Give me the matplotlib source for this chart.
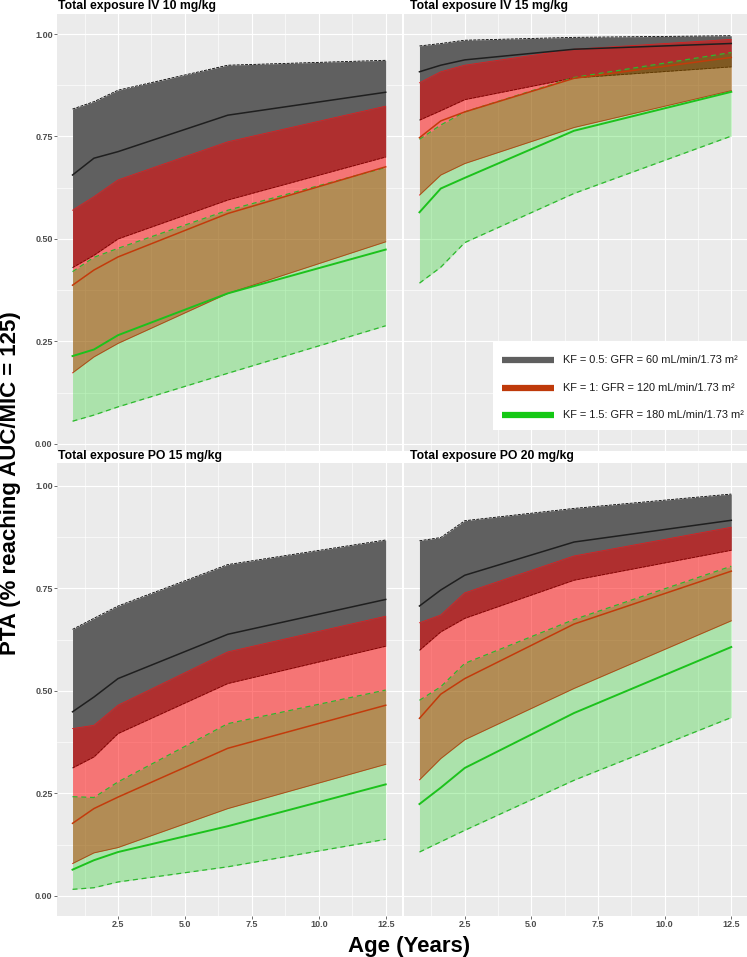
import matplotlib
matplotlib.use("Agg")
import matplotlib.pyplot as plt
from matplotlib.patches import Rectangle
from matplotlib.lines import Line2D

plt.rcParams['font.family'] = ['Liberation Sans', 'DejaVu Sans']

# ages (years)
age = [0.8, 1.6, 2.5, 6.6, 12.5]

# each list: [lower, median, upper]
iv10_kf05 = [[0.43, 0.46, 0.50, 0.595, 0.70],
             [0.656, 0.697, 0.713, 0.802, 0.858],
             [0.817, 0.835, 0.863, 0.924, 0.936]]
iv10_kf1 = [[0.173, 0.212, 0.245, 0.367, 0.493],
            [0.387, 0.424, 0.456, 0.562, 0.676],
            [0.570, 0.603, 0.644, 0.737, 0.824]]
iv10_kf15 = [[0.055, 0.070, 0.090, 0.172, 0.288],
             [0.214, 0.230, 0.265, 0.367, 0.474],
             [0.42, 0.455, 0.477, 0.570, 0.674]]

iv15_kf05 = [[0.790, 0.813, 0.840, 0.893, 0.920],
             [0.908, 0.924, 0.937, 0.963, 0.977],
             [0.971, 0.977, 0.985, 0.992, 0.996]]
iv15_kf1 = [[0.607, 0.656, 0.684, 0.772, 0.862],
            [0.747, 0.788, 0.810, 0.892, 0.943],
            [0.881, 0.908, 0.924, 0.963, 0.987]]
iv15_kf15 = [[0.392, 0.431, 0.491, 0.611, 0.751],
             [0.565, 0.623, 0.649, 0.764, 0.859],
             [0.743, 0.778, 0.810, 0.894, 0.955]]

po15_kf05 = [[0.312, 0.339, 0.396, 0.518, 0.609],
             [0.449, 0.485, 0.530, 0.638, 0.723],
             [0.650, 0.677, 0.707, 0.808, 0.868]]
po15_kf1 = [[0.079, 0.105, 0.118, 0.213, 0.321],
            [0.177, 0.213, 0.241, 0.360, 0.465],
            [0.408, 0.416, 0.465, 0.595, 0.682]]
po15_kf15 = [[0.016, 0.020, 0.034, 0.071, 0.138],
             [0.064, 0.087, 0.107, 0.170, 0.272],
             [0.242, 0.240, 0.278, 0.420, 0.502]]

po20_kf05 = [[0.599, 0.644, 0.677, 0.770, 0.843],
             [0.707, 0.746, 0.782, 0.863, 0.916],
             [0.866, 0.874, 0.915, 0.945, 0.980]]
po20_kf1 = [[0.283, 0.335, 0.381, 0.506, 0.671],
            [0.433, 0.492, 0.530, 0.663, 0.792],
            [0.666, 0.685, 0.739, 0.829, 0.899]]
po20_kf15 = [[0.107, 0.132, 0.160, 0.282, 0.435],
             [0.224, 0.264, 0.312, 0.446, 0.607],
             [0.477, 0.510, 0.567, 0.674, 0.804]]

titles = ['Total exposure IV 10 mg/kg', 'Total exposure IV 15 mg/kg',
          'Total exposure PO 15 mg/kg', 'Total exposure PO 20 mg/kg']
panels = [(iv10_kf05, iv10_kf1, iv10_kf15), (iv15_kf05, iv15_kf1, iv15_kf15),
          (po15_kf05, po15_kf1, po15_kf15), (po20_kf05, po20_kf1, po20_kf15)]
legend_labels = ['KF = 0.5: GFR = 60 mL/min/1.73 m\u00b2',
                 'KF = 1: GFR = 120 mL/min/1.73 m\u00b2',
                 'KF = 1.5: GFR = 180 mL/min/1.73 m\u00b2']
xticks = [2.5, 5.0, 7.5, 10.0, 12.5]
yticks = [0.0, 0.25, 0.5, 0.75, 1.0]

W, H = 747, 957
fig = plt.figure(figsize=(W / 100, H / 100), dpi=100)


def px_axes(x0, y0, x1, y1):
    return fig.add_axes([x0 / W, 1 - y1 / H, (x1 - x0) / W, (y1 - y0) / H])


# pixel boxes of the four panels (left, top, right, bottom)
boxes = [(57, 14, 401.5, 450.7), (404, 14, 747, 450.7),
         (57, 463.3, 401.5, 916), (404, 463.3, 747, 916)]
ylims = [(-0.017, 1.049), (-0.017, 1.049), (-0.049, 1.055), (-0.049, 1.055)]
title_x = [57.5, 410, 57.5, 410]
title_y = [9, 9, 459.5, 459.5]

for i, (box, (kf05, kf1, kf15)) in enumerate(zip(boxes, panels)):
    ax = px_axes(*box)
    ax.set_facecolor('#EBEBEB')
    for s in ax.spines.values():
        s.set_visible(False)
    ax.set_xlim(0.22, 13.09)
    ax.set_ylim(*ylims[i])
    ax.set_xticks(xticks)
    ax.set_xticklabels(['2.5', '5.0', '7.5', '10.0', '12.5'])
    ax.set_xticks([1.25, 3.75, 6.25, 8.75, 11.25], minor=True)
    ax.set_yticks(yticks)
    ax.set_yticklabels(['0.00', '0.25', '0.50', '0.75', '1.00'])
    ax.set_yticks([0.125, 0.375, 0.625, 0.875], minor=True)
    ax.grid(which='major', color='white', lw=0.85)
    ax.grid(which='minor', color='white', lw=0.45)
    ax.set_axisbelow(True)
    ax.tick_params(which='minor', length=0)
    ax.tick_params(which='major', length=2, width=0.5, color='#333333',
                   labelcolor='#4D4D4D', labelsize=6.5, pad=1.2)
    for lab in ax.get_xticklabels() + ax.get_yticklabels():
        lab.set_fontweight('bold')
    if i % 2 == 1:
        ax.tick_params(axis='y', left=False, labelleft=False)
    if i < 2:
        ax.tick_params(axis='x', bottom=False, labelbottom=False)

    # ribbons
    ax.fill_between(age, kf05[0], kf05[2], color='#606060', lw=0, zorder=2)
    ax.plot(age, kf05[0], color='black', lw=0.6, dashes=(3.5, 1.5), zorder=3)
    ax.plot(age, kf05[2], color='black', lw=0.6, dashes=(3.5, 1.5), zorder=3)
    ax.fill_between(age, kf1[0], kf1[2], color='red', alpha=0.5, lw=0, zorder=4)
    ax.plot(age, kf1[0], color='#E41A1C', lw=0.6, zorder=5)
    ax.plot(age, kf1[2], color='#E41A1C', lw=0.6, zorder=5)
    ax.fill_between(age, kf15[0], kf15[2], color='#00CD00', alpha=0.27, lw=0, zorder=6)
    ax.plot(age, kf15[0], color='#2DB82D', lw=0.9, dashes=(4, 3), zorder=7)
    ax.plot(age, kf15[2], color='#2DB82D', lw=0.9, dashes=(4, 3), zorder=7)
    # medians
    ax.plot(age, kf05[1], color='#1F1F1F', lw=1.1, zorder=8)
    ax.plot(age, kf1[1], color='#C33B0B', lw=1.1, zorder=8)
    ax.plot(age, kf15[1], color='#1CC21C', lw=1.4, zorder=8)

# overlay in pixel coordinates for strip titles, axis titles and legend
ov = fig.add_axes([0, 0, 1, 1], facecolor='none')
ov.set_xlim(0, W)
ov.set_ylim(H, 0)
ov.axis('off')

for t, tx, ty in zip(titles, title_x, title_y):
    ov.text(tx, ty, t, fontsize=8.8, fontweight='bold', ha='left', va='baseline')

ov.text(11, 483, 'PTA (% reaching AUC/MIC = 125)', fontsize=16, fontweight='bold',
        rotation=90, ha='center', va='center')
ov.text(409, 952, 'Age (Years)', fontsize=16, fontweight='bold',
        ha='center', va='baseline')

ov.add_patch(Rectangle((493, 341.7), 254, 88.3, facecolor='white', edgecolor='none', zorder=10))
key_colors = ['#5F5F5F', '#BF3A0A', '#14C814']
key_y = [360, 387.7, 415]
for c, ky, lab in zip(key_colors, key_y, legend_labels):
    ov.add_line(Line2D([502, 554], [ky, ky], color=c, lw=4.5, solid_capstyle='butt', zorder=11))
    ov.text(563, ky, lab, fontsize=7.9, ha='left', va='center', color='#1A1A1A', zorder=11)

fig.savefig('out.png', dpi=100)
